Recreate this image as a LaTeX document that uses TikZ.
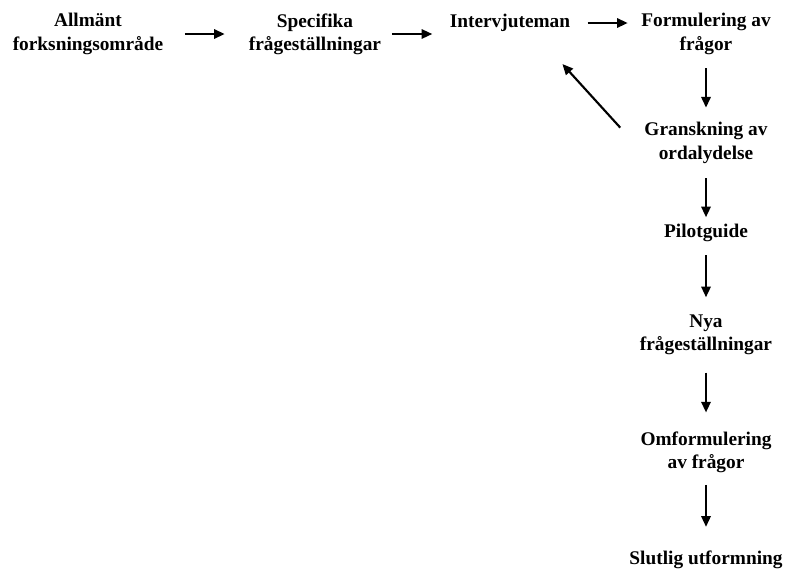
\documentclass[tikz,border=0pt]{standalone}
\usepackage{fontspec}
\setmainfont{Liberation Serif}
\usepackage{tikz}
\usetikzlibrary{positioning, arrows.meta}

\begin{document}
\begin{tikzpicture}[x=0.75pt, y=-0.75pt,
  stage/.style={align=center, inner sep=0pt, font=\bfseries\fontsize{14.5}{17.5}\selectfont},
  flow/.style={-{Triangle[length=8pt, width=7pt]}, line width=1.6pt}
]
\useasboundingbox (0,0) rectangle (788,569);

% Top row
\node[stage] (General) at (88,34) {Allmänt\\forksningsområde};
\node[stage] (Specific) at (315,34) {Specifika\\frågeställningar};
\node[stage] (Interview) at (510,23) {Intervjuteman};
\node[stage] (Wording) at (706,34) {Formulering av\\frågor};

% Right column
\node[stage] (Review) at (706,143) {Granskning av\\ordalydelse};
\node[stage] (Pilot) at (706,233) {Pilotguide};
\node[stage] (NewQ) at (706,335) {Nya\\frågeställningar};
\node[stage] (Rewording) at (706,452) {Omformulering\\av frågor};
\node[stage] (Final) at (706,560) {Slutlig utformning};

% Arrows along the top
\draw[flow, shorten <=16pt, shorten >=18pt] (General) -- (General -| Specific.west);
\draw[flow, shorten <=8pt, shorten >=13pt] (Specific) -- (Specific -| Interview.west);
\draw[flow, shorten <=13pt, shorten >=10pt] (Interview.east) -- (Interview.east -| Wording.west);

% Arrows down the column
\draw[flow, shorten <=10pt, shorten >=11pt] (Wording) -- (Review);
\draw[flow, shorten <=11pt, shorten >=5pt] (Review) -- (Pilot);
\draw[flow, shorten <=10pt, shorten >=13pt] (Pilot) -- (NewQ);
\draw[flow, shorten <=13pt, shorten >=14pt] (NewQ) -- (Rewording);
\draw[flow, shorten <=9pt, shorten >=18pt] (Rewording) -- (Final);

% Feedback
\draw[flow] ([xshift=-18pt, yshift=-4pt]Review.north west) -- ([xshift=-6pt, yshift=-24pt]Interview.south east);

\end{tikzpicture}
\end{document}
